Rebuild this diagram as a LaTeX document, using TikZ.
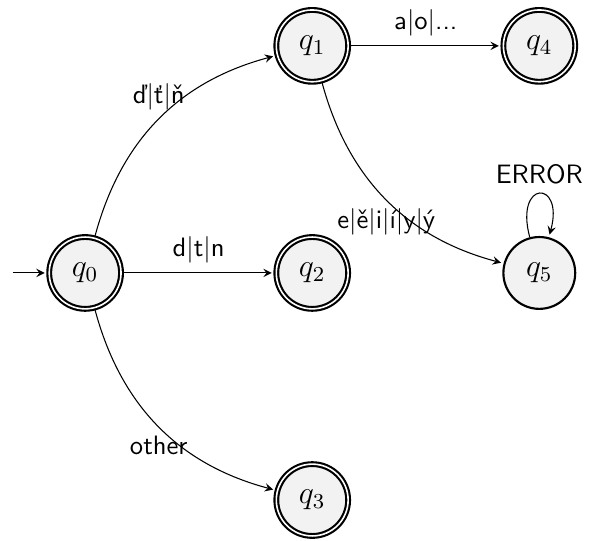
\documentclass[tikz,border=0pt]{standalone}
\usepackage{fontspec}
\usetikzlibrary{automata}

\begin{document}
\begin{tikzpicture}[
    >=stealth,
    shorten >=1pt,
    auto,
    every state/.style={thick, fill=gray!10, minimum size=27pt, font=\large},
    every edge/.style={draw, ->},
    lbl/.style={font=\sffamily},
    initial text={}
  ]
  \useasboundingbox (-32pt,-100.4pt) rectangle (189.4pt,102.6pt);

  % states on a 3cm grid
  \node[state, initial, accepting] (q0) at (0,0)  {$q_0$};
  \node[state, accepting]          (q1) at (3,3)  {$q_1$};
  \node[state, accepting]          (q2) at (3,0)  {$q_2$};
  \node[state, accepting]          (q3) at (3,-3) {$q_3$};
  \node[state, accepting]          (q4) at (6,3)  {$q_4$};
  \node[state]                     (q5) at (6,0)  {$q_5$};

  % transitions
  \path
    (q0) edge [bend left]  node[lbl, above] {ď|ť|ň} (q1)
         edge               node[lbl, above] {d|t|n} (q2)
         edge [bend right] node[lbl, below] {other} (q3)
    (q1) edge               node[lbl, above] {a|o|...} (q4)
         edge [bend right] node[lbl, below] {e|ě|i|í|y|ý} (q5)
    (q5) edge [loop above] node[lbl, above] {ERROR} ();
\end{tikzpicture}
\end{document}
